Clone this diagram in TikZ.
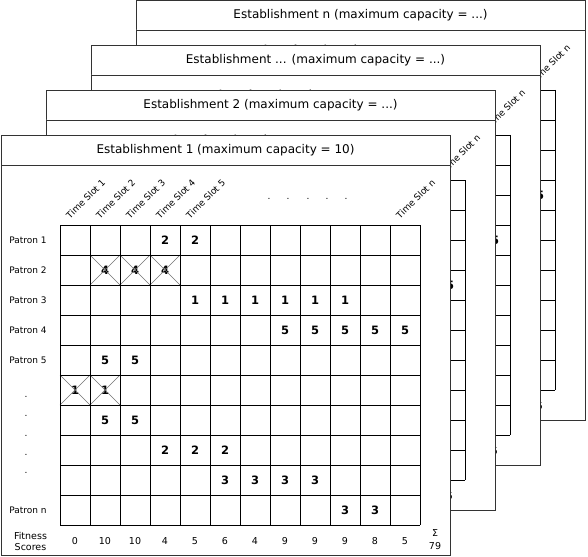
\documentclass[tikz,border=0pt]{standalone}
\usepackage{fontspec}
\setmainfont{DejaVu Sans}
\tikzset{
  panelbox/.style={draw=black!80, fill=white, line width=0.9pt},
  gridline/.style={draw=black, line width=0.9pt},
  crossline/.style={draw=black!55, line width=0.6pt},
  num/.style={font=\fontsize{11.5}{13}\selectfont\bfseries, inner sep=0pt},
  small/.style={font=\fontsize{9}{10.5}\selectfont, inner sep=0pt},
  score/.style={font=\fontsize{9.5}{11}\selectfont, inner sep=0pt},
  ttl/.style={font=\fontsize{12}{14}\selectfont, inner sep=0pt},
  slot/.style={font=\fontsize{9}{10.5}\selectfont, inner sep=0pt, rotate=45, anchor=base west},
  dotmark/.style={small, anchor=center}
}
% one complete establishment sheet
\newcommand\drawpanel[2]{%
  \draw[panelbox] (1,135) rectangle (450,555);
  \draw[panelbox] (1,165) -- (450,165);
  \node[ttl] (#1-title) at (225.5,150) {#2};
  \foreach \c in {1,...,5} {
    \node[slot] (#1-slot-\c) at ({45+30*\c-5},219.5) {Time Slot \c};
  }
  \node[slot] (#1-slot-n) at (400,219.5) {Time Slot n};
  \foreach \x [count=\i] in {269,288,308,327,346} {
    \node[dotmark] (#1-hd-\i) at (\x,199) {.};
  }
  \foreach \r in {1,...,5} {
    \node[small] (#1-row-\r) at (28,{210+30*\r}) {Patron \r};
  }
  \node[small] (#1-row-n) at (28,510) {Patron n};
  \foreach \y [count=\i] in {397,416,436,455,473} {
    \node[dotmark] (#1-vd-\i) at (26,\y) {.};
  }
  \foreach \c/\r/\v in {4/1/2,5/1/2,
      2/2/4,3/2/4,4/2/4,
      5/3/1,6/3/1,7/3/1,8/3/1,9/3/1,10/3/1,
      8/4/5,9/4/5,10/4/5,11/4/5,12/4/5,
      2/5/5,3/5/5,
      1/6/1,2/6/1,
      2/7/5,3/7/5,
      4/8/2,5/8/2,6/8/2,
      6/9/3,7/9/3,8/9/3,9/9/3,
      10/10/3,11/10/3} {
    \node[num] (#1-n-\c-\r) at ({45+30*\c},{210+30*\r}) {\v};
  }
  \foreach \c/\r in {2/2,3/2,4/2,1/6,2/6} {
    \draw[crossline] ({30+30*\c},{195+30*\r}) -- ({60+30*\c},{225+30*\r})
                     ({30+30*\c},{225+30*\r}) -- ({60+30*\c},{195+30*\r});
  }
  \foreach \i in {0,...,12} {
    \draw[gridline] ({60+30*\i},225) -- ({60+30*\i},525);
  }
  \foreach \j in {0,...,10} {
    \draw[gridline] (60,{225+30*\j}) -- (420,{225+30*\j});
  }
  \node[score, align=center] (#1-fit) at (30.5,541) {Fitness\\Scores};
  \foreach \v [count=\c] in {0,10,10,4,5,6,4,9,9,9,8,5} {
    \node[score] (#1-f-\c) at ({45+30*\c},541) {\v};
  }
}
\begin{document}
\begin{tikzpicture}[x=1pt,y=-1pt]
  \useasboundingbox (0,0) rectangle (588,556);
  \begin{scope}[shift={(135,-135)}]
    \drawpanel{pn}{Establishment n (maximum capacity = ...)}
  \end{scope}
  \begin{scope}[shift={(90,-90)}]
    \drawpanel{pd}{Establishment ... (maximum capacity = ...)}
  \end{scope}
  \begin{scope}[shift={(45,-45)}]
    \drawpanel{pb}{Establishment 2 (maximum capacity = ...)}
  \end{scope}
  \begin{scope}
    \drawpanel{pa}{Establishment 1 (maximum capacity = 10)}
    \node[score, align=center, font=\fontsize{9.5}{13}\selectfont] (pa-sum) at (435,539.5) {Σ\\79};
  \end{scope}
\end{tikzpicture}
\end{document}
